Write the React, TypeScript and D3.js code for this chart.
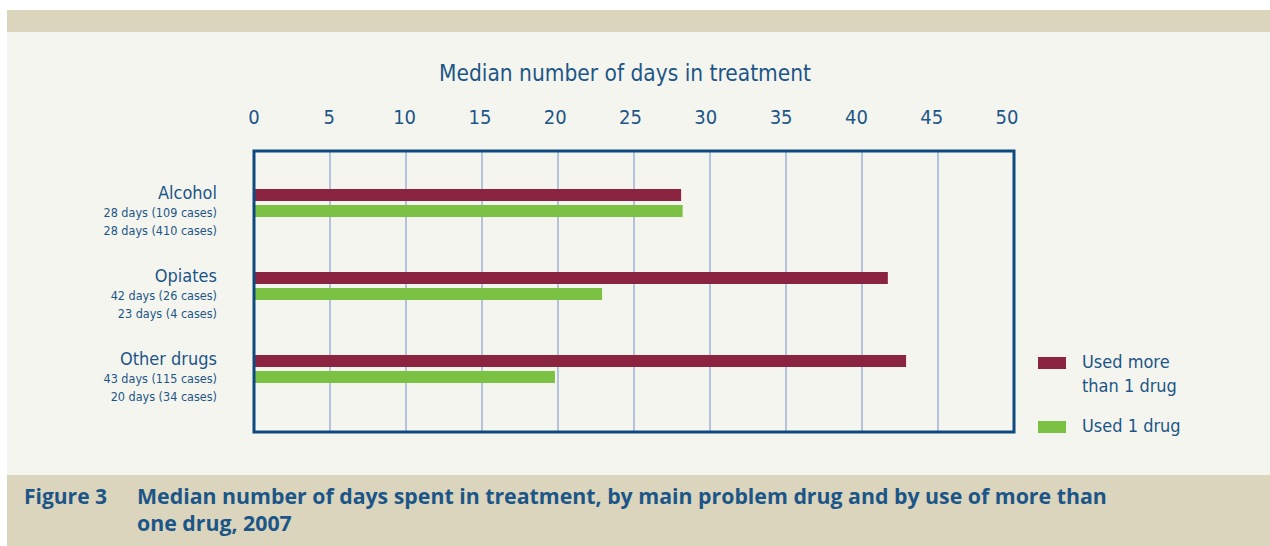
// Figure 3 — median days in treatment by main problem drug, split by
// single vs. multiple drug use. Horizontal grouped bars, axis on top.
import * as d3 from "d3";

const CATEGORIES = ["Alcohol", "Opiates", "Other drugs"];
const MULTI_DAYS = [28.1, 41.7, 42.9];
const SINGLE_DAYS = [28.2, 22.9, 19.8];
const MULTI_NOTES = ["28 days (109 cases)", "42 days (26 cases)", "43 days (115 cases)"];
const SINGLE_NOTES = ["28 days (410 cases)", "23 days (4 cases)", "20 days (34 cases)"];
const TICKS = [0, 5, 10, 15, 20, 25, 30, 35, 40, 45, 50];

const W = 1270;
const H = 546;
const BLUE = "#1c5587";
const FRAME = "#0c4a80";
const GRID = "#8ea8d0";
const MAROON = "#8a2440";
const GREEN = "#7bc143";
const BEIGE = "#dbd5bd";
const PANEL = "#f5f5ef";
const FONT = "'DejaVu Sans Condensed', 'DejaVu Sans', sans-serif";
const CAPTION_FONT = "'Open Sans', 'Noto Sans', sans-serif";

export default function App() {
  const plot = { left: 254, right: 1014, top: 151, bottom: 432 };
  const x = d3.scaleLinear().domain([0, 50]).range([plot.left, plot.right]);
  // each category band: maroon bar, green bar, then note space
  const y = d3
    .scaleBand<string>()
    .domain(CATEGORIES)
    .range([plot.top + 38, plot.top + 38 + 83 * 3]);
  const barH = 12;
  const gap = 4;

  return (
    <svg
      width={W}
      height={H}
      viewBox={`0 0 ${W} ${H}`}
      style={{ position: "absolute", left: 0, top: 0, background: "#fff" }}
    >
      <rect x={7} y={10} width={W - 7} height={22} fill={BEIGE} />
      <rect x={7} y={32} width={W - 7} height={443} fill={PANEL} />
      <rect x={7} y={475} width={W - 7} height={H - 475} fill={BEIGE} />

      <text
        x={625}
        y={81}
        textAnchor="middle"
        fill={BLUE}
        fontFamily={FONT}
        fontSize={22.5}
      >
        Median number of days in treatment
      </text>

      {TICKS.map((t) => (
        <text
          key={`t${t}`}
          x={x(t) - t * 0.14}
          y={124}
          textAnchor="middle"
          fill={BLUE}
          fontFamily={FONT}
          fontSize={20}
        >
          {t}
        </text>
      ))}

      {TICKS.slice(1, -1).map((t) => (
        <line
          key={`g${t}`}
          x1={x(t)}
          x2={x(t)}
          y1={plot.top}
          y2={plot.bottom}
          stroke={GRID}
          strokeWidth={1.3}
        />
      ))}

      {CATEGORIES.map((c, i) => {
        const y0 = y(c)!;
        return (
          <g key={c}>
            <rect
              x={x(0)}
              y={y0}
              width={x(MULTI_DAYS[i]) - x(0)}
              height={barH}
              fill={MAROON}
            />
            <rect
              x={x(0)}
              y={y0 + barH + gap}
              width={x(SINGLE_DAYS[i]) - x(0)}
              height={barH}
              fill={GREEN}
            />
            <text
              x={217}
              y={y0 + 10}
              textAnchor="end"
              fill={BLUE}
              fontFamily={FONT}
              fontSize={18}
            >
              {c}
            </text>
            <text
              x={217}
              y={y0 + 28}
              textAnchor="end"
              fill={BLUE}
              fontFamily={FONT}
              fontSize={12.5}
            >
              {MULTI_NOTES[i]}
            </text>
            <text
              x={217}
              y={y0 + 46}
              textAnchor="end"
              fill={BLUE}
              fontFamily={FONT}
              fontSize={12.5}
            >
              {SINGLE_NOTES[i]}
            </text>
          </g>
        );
      })}

      <rect
        x={plot.left}
        y={plot.top}
        width={plot.right - plot.left}
        height={plot.bottom - plot.top}
        fill="none"
        stroke={FRAME}
        strokeWidth={3}
      />

      {/* legend */}
      <rect x={1038} y={357} width={28} height={12} fill={MAROON} />
      <text x={1082} y={368} fill={BLUE} fontFamily={FONT} fontSize={18}>
        Used more
      </text>
      <text x={1082} y={392} fill={BLUE} fontFamily={FONT} fontSize={18}>
        than 1 drug
      </text>
      <rect x={1038} y={421} width={28} height={12} fill={GREEN} />
      <text x={1082} y={432} fill={BLUE} fontFamily={FONT} fontSize={18}>
        Used 1 drug
      </text>

      {/* caption */}
      <text
        x={24}
        y={504}
        fill={BLUE}
        fontFamily={CAPTION_FONT}
        fontWeight="bold"
        fontSize={21}
      >
        Figure 3
      </text>
      <text
        x={137}
        y={504}
        fill={BLUE}
        fontFamily={CAPTION_FONT}
        fontWeight="bold"
        fontSize={21.3}
      >
        Median number of days spent in treatment, by main problem drug and by use of more than
      </text>
      <text
        x={137}
        y={531}
        fill={BLUE}
        fontFamily={CAPTION_FONT}
        fontWeight="bold"
        fontSize={21.3}
      >
        one drug, 2007
      </text>
    </svg>
  );
}
